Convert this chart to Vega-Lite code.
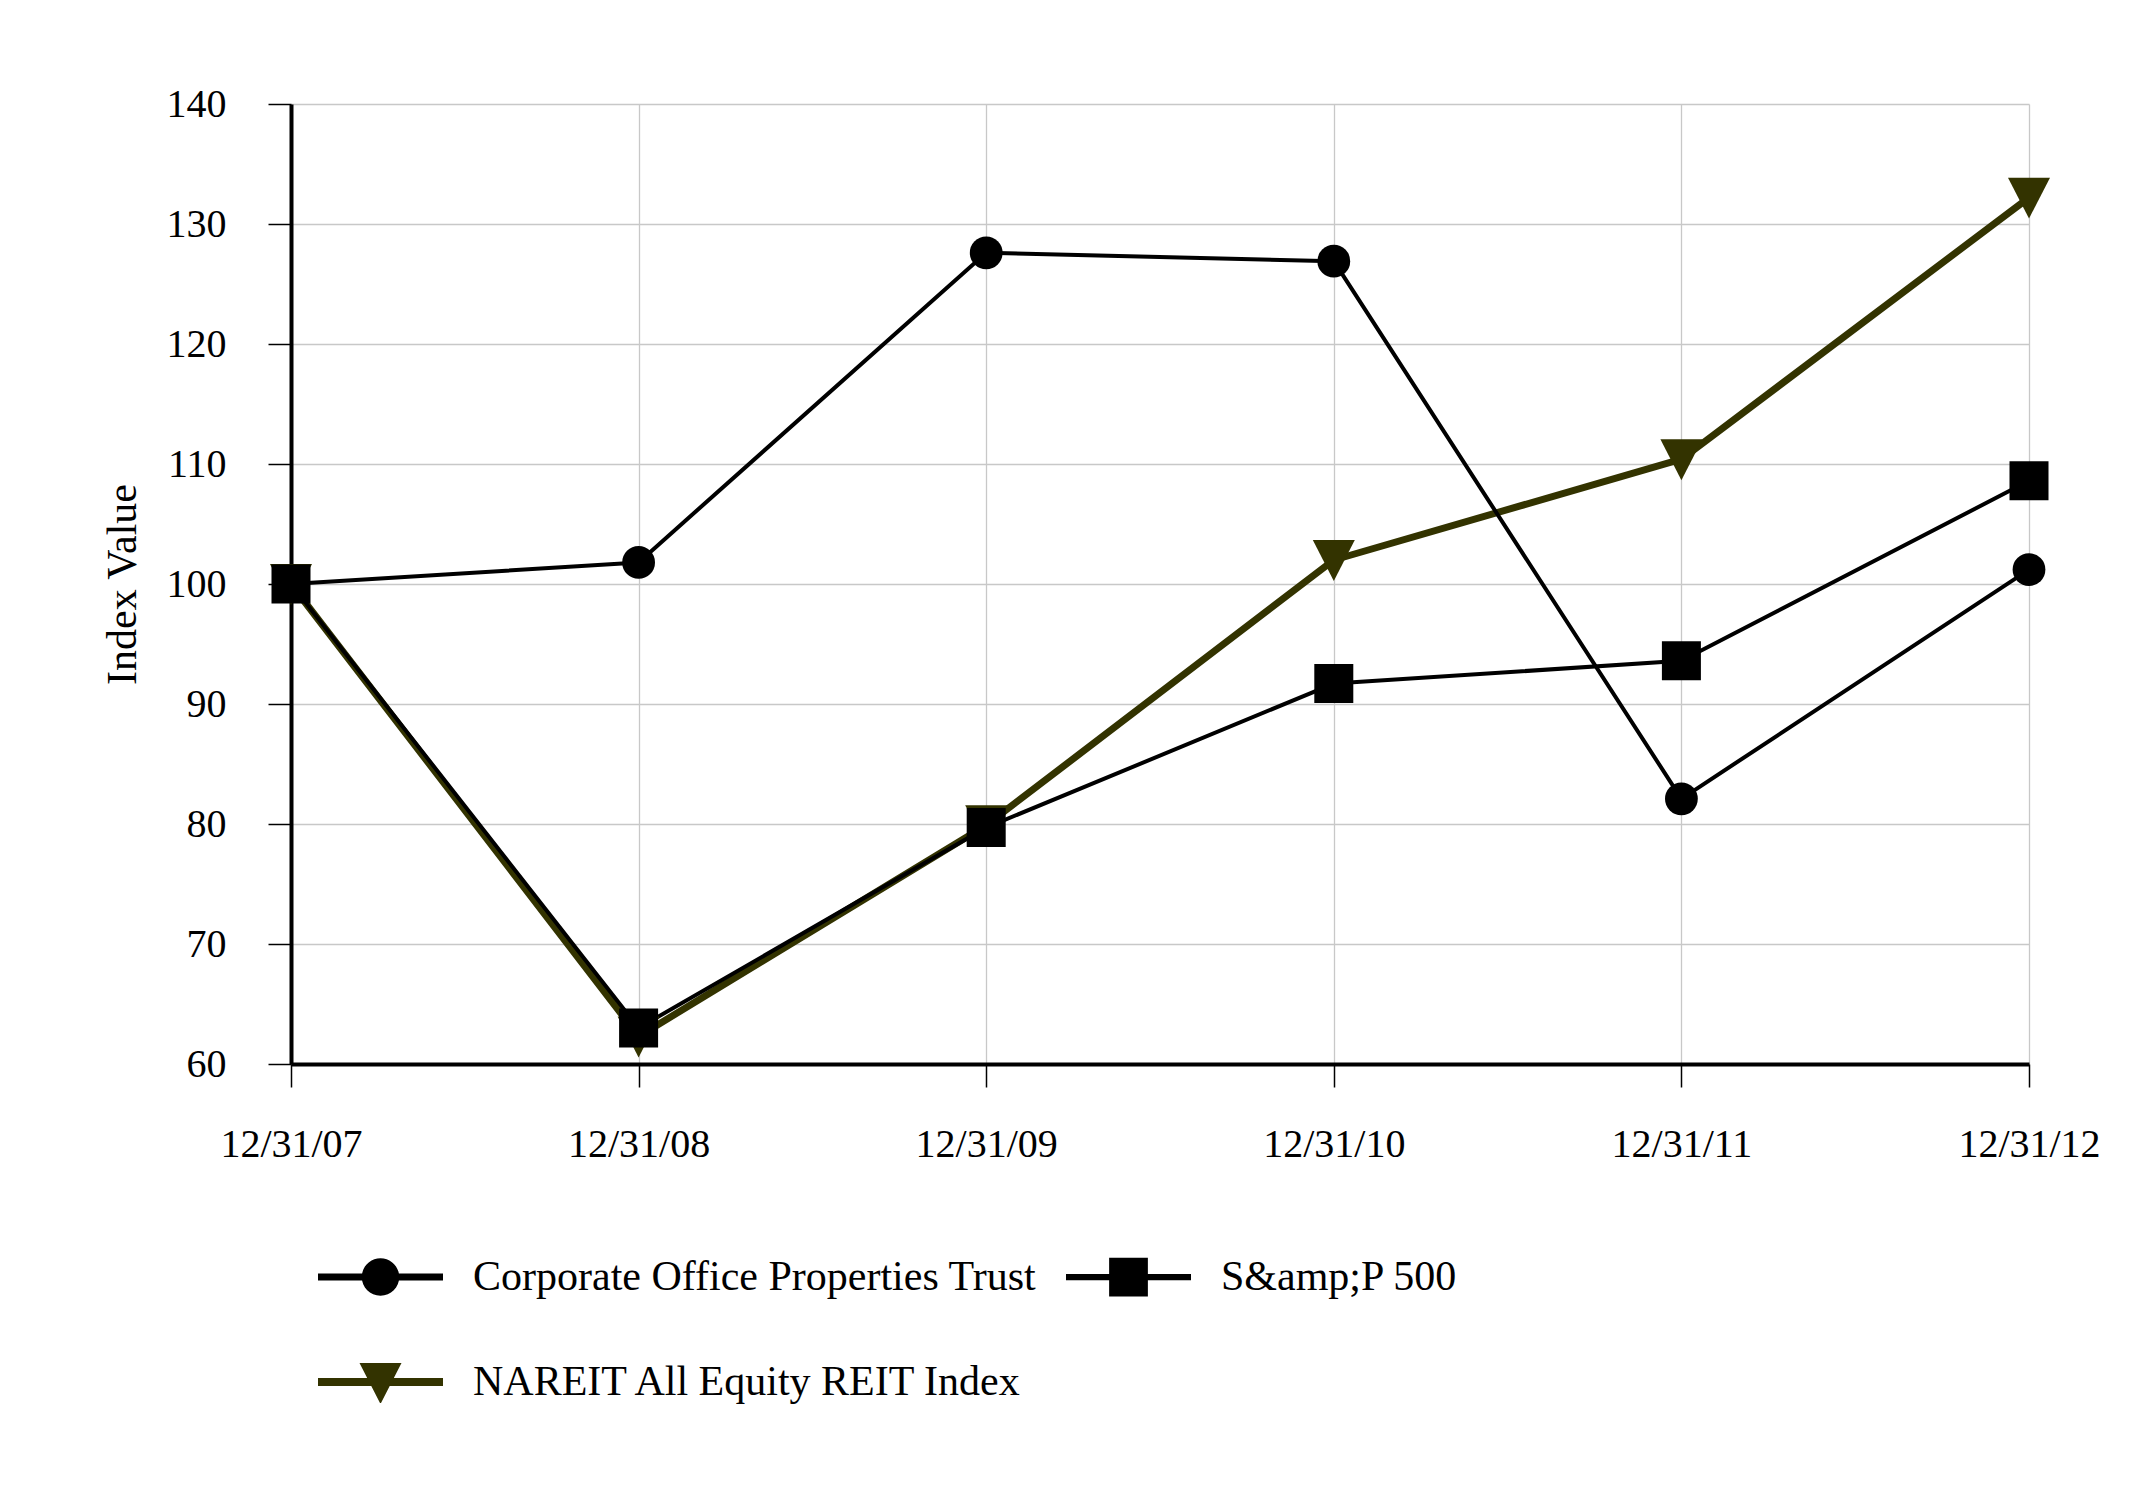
{
  "$schema": "https://vega.github.io/schema/vega-lite/v6.json",
  "width": 1738,
  "height": 960,
  "autosize": {"type": "none"},
  "padding": {"left": 291, "top": 104, "right": 104, "bottom": 427},
  "background": "white",
  "config": {
    "font": "Liberation Serif",
    "view": {"stroke": null},
    "axis": {
      "labelFont": "Liberation Serif",
      "titleFont": "Liberation Serif",
      "labelFontSize": 40,
      "titleFontSize": 42,
      "labelColor": "#000000",
      "titleColor": "#000000",
      "titleFontWeight": "normal",
      "domainColor": "#000000",
      "domainWidth": 4,
      "tickColor": "#000000",
      "tickWidth": 1.5,
      "tickSize": 23,
      "gridColor": "#c8c8c8",
      "gridWidth": 1.3,
      "grid": true
    }
  },
  "data": {
    "values": [
      {"series": "NAREIT All Equity REIT Index", "date": "12/31/07", "value": 100},
      {"series": "NAREIT All Equity REIT Index", "date": "12/31/08", "value": 62.3},
      {"series": "NAREIT All Equity REIT Index", "date": "12/31/09", "value": 79.9},
      {"series": "NAREIT All Equity REIT Index", "date": "12/31/10", "value": 102.0},
      {"series": "NAREIT All Equity REIT Index", "date": "12/31/11", "value": 110.4},
      {"series": "NAREIT All Equity REIT Index", "date": "12/31/12", "value": 132.2},
      {"series": "S&amp;P 500", "date": "12/31/07", "value": 100},
      {"series": "S&amp;P 500", "date": "12/31/08", "value": 63.0},
      {"series": "S&amp;P 500", "date": "12/31/09", "value": 79.7},
      {"series": "S&amp;P 500", "date": "12/31/10", "value": 91.7},
      {"series": "S&amp;P 500", "date": "12/31/11", "value": 93.6},
      {"series": "S&amp;P 500", "date": "12/31/12", "value": 108.6},
      {"series": "Corporate Office Properties Trust", "date": "12/31/07", "value": 100},
      {"series": "Corporate Office Properties Trust", "date": "12/31/08", "value": 101.8},
      {"series": "Corporate Office Properties Trust", "date": "12/31/09", "value": 127.6},
      {"series": "Corporate Office Properties Trust", "date": "12/31/10", "value": 126.9},
      {"series": "Corporate Office Properties Trust", "date": "12/31/11", "value": 82.1},
      {"series": "Corporate Office Properties Trust", "date": "12/31/12", "value": 101.2}
    ]
  },
  "layer": [
    {
      "mark": {"type": "line", "strokeJoin": "round"},
      "encoding": {
        "x": {
          "field": "date",
          "type": "ordinal",
          "scale": {"type": "point", "padding": 0, "domain": ["12/31/07", "12/31/08", "12/31/09", "12/31/10", "12/31/11", "12/31/12"]},
          "axis": {"title": null, "labelAngle": 0, "labelPadding": 37}
        },
        "y": {
          "field": "value",
          "type": "quantitative",
          "scale": {"domain": [60, 140], "nice": false, "zero": false},
          "axis": {"title": "Index Value", "values": [60, 70, 80, 90, 100, 110, 120, 130, 140], "labelPadding": 42, "titlePadding": 22}
        },
        "color": {
          "field": "series",
          "type": "nominal",
          "scale": {"domain": ["Corporate Office Properties Trust", "S&amp;P 500", "NAREIT All Equity REIT Index"], "range": ["#000000", "#000000", "#333300"]},
          "legend": null
        },
        "strokeWidth": {
          "field": "series",
          "type": "nominal",
          "scale": {"type": "ordinal", "domain": ["Corporate Office Properties Trust", "S&amp;P 500", "NAREIT All Equity REIT Index"], "range": [4, 4, 7]},
          "legend": null
        }
      }
    },
    {
      "mark": {"type": "point", "filled": true, "opacity": 1, "strokeWidth": 0},
      "encoding": {
        "x": {"field": "date", "type": "ordinal"},
        "y": {"field": "value", "type": "quantitative"},
        "color": {
          "field": "series",
          "type": "nominal",
          "scale": {"domain": ["Corporate Office Properties Trust", "S&amp;P 500", "NAREIT All Equity REIT Index"], "range": ["#000000", "#000000", "#333300"]},
          "legend": null
        },
        "shape": {
          "field": "series",
          "type": "nominal",
          "scale": {"domain": ["Corporate Office Properties Trust", "S&amp;P 500", "NAREIT All Equity REIT Index"], "range": ["circle", "square", "M-1,-0.95L1,-0.95L0,1Z"]},
          "legend": null
        },
        "size": {
          "field": "series",
          "type": "nominal",
          "scale": {"type": "ordinal", "domain": ["Corporate Office Properties Trust", "S&amp;P 500", "NAREIT All Equity REIT Index"], "range": [1075, 1521, 1764]},
          "legend": null
        }
      }
    },
    {
      "transform": [{"filter": "false"}],
      "mark": {"type": "point", "filled": true, "opacity": 1, "strokeWidth": 0},
      "encoding": {
        "color": {
          "field": "series",
          "type": "nominal",
          "scale": {"domain": ["Corporate Office Properties Trust", "S&amp;P 500", "NAREIT All Equity REIT Index"], "range": ["#000000", "#000000", "#333300"]},
          "legend": {"title": null, "orient": "none", "legendX": 27, "legendY": 1152, "columns": 2, "direction": "horizontal", "symbolSize": 15625, "symbolStrokeWidth": 0, "labelFont": "Liberation Serif", "labelFontSize": 42, "labelColor": "#000000", "labelLimit": 1200, "labelOffset": 30, "columnPadding": 29, "rowPadding": 63, "clipHeight": 42, "padding": 0, "labelBaseline": "middle"}
        },
        "shape": {
          "field": "series",
          "type": "nominal",
          "scale": {"domain": ["Corporate Office Properties Trust", "S&amp;P 500", "NAREIT All Equity REIT Index"], "range": [
            "M-1,-0.055L1,-0.055L1,0.055L-1,0.055Z M-0.3,0A0.3,0.3 0 1,1 0.3,0A0.3,0.3 0 1,1 -0.3,0Z",
            "M-1,-0.05L1,-0.05L1,0.05L-1,0.05Z M-0.31,-0.31L0.31,-0.31L0.31,0.31L-0.31,0.31Z",
            "M-1,-0.064L1,-0.064L1,0.064L-1,0.064Z M-0.336,-0.304L0.336,-0.304L0,0.352Z"
          ]},
          "legend": {"title": null, "orient": "none", "legendX": 27, "legendY": 1152, "columns": 2, "direction": "horizontal", "symbolSize": 15625, "symbolStrokeWidth": 0, "labelFont": "Liberation Serif", "labelFontSize": 42, "labelColor": "#000000", "labelLimit": 1200, "labelOffset": 30, "columnPadding": 29, "rowPadding": 63, "clipHeight": 42, "padding": 0, "labelBaseline": "middle"}
        }
      }
    }
  ],
  "resolve": {"scale": {"color": "independent", "shape": "independent", "size": "independent", "strokeWidth": "independent"}}
}
